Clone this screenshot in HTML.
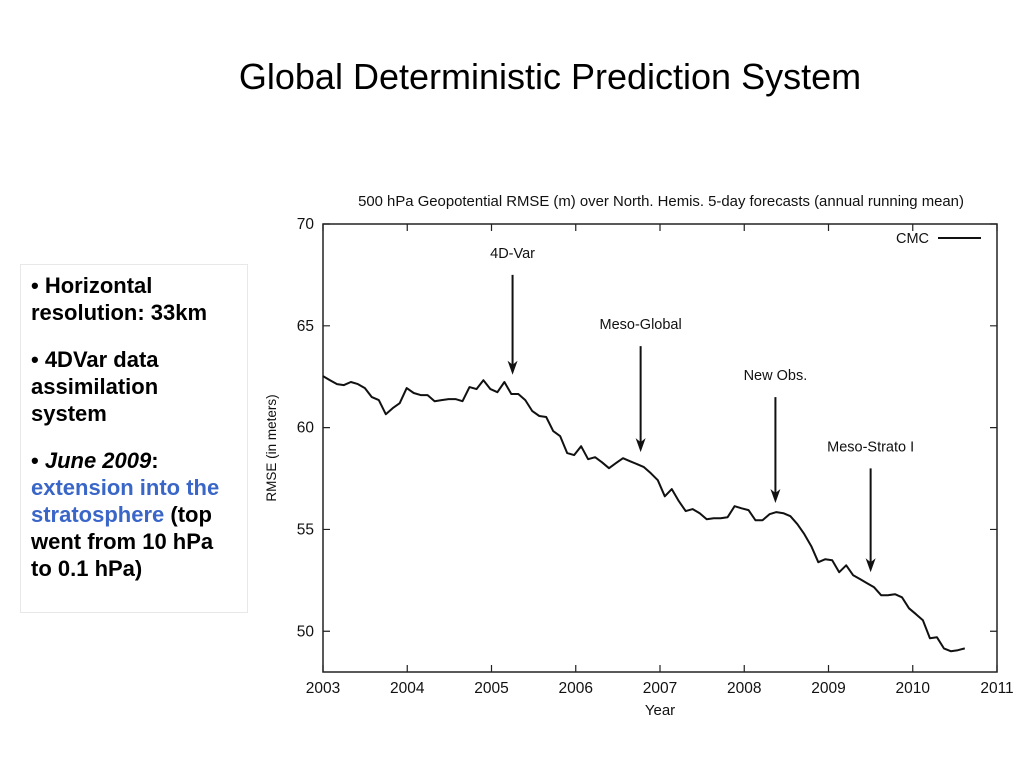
<!DOCTYPE html>
<html><head><meta charset="utf-8"><style>
body{margin:0;width:1024px;height:768px;background:#fff;overflow:hidden;position:relative;font-family:"Liberation Sans",sans-serif}
#title{position:absolute;left:0;width:1100px;top:56px;text-align:center;font-size:36px;color:#000;font-family:"Liberation Sans",sans-serif}
#box{position:absolute;left:20px;top:264px;width:206px;height:333px;border:1px solid #e8e8e8;padding:7px 10px;font-weight:bold;font-size:22px;line-height:27px;color:#000}
#box p{margin:0 0 20px 0}
.blue{color:#3a66c8}
svg{position:absolute;left:0;top:0}
svg text{font-family:"Liberation Sans",sans-serif;fill:#111}
</style></head><body>
<div id="title">Global Deterministic Prediction System</div>
<div id="box">
<p>• Horizontal resolution: 33km</p>
<p>• 4DVar data assimilation system</p>
<p>• <i>June 2009</i>: <span class="blue">extension into the stratosphere</span> (top went from 10 hPa to 0.1 hPa)</p>
</div>
<svg id="chart" width="1024" height="768"></svg>
<script>
const xTicks=[2003,2004,2005,2006,2007,2008,2009,2010,2011];
const yTicks=[50,55,60,65,70];
const startYear=2003;
const monthStep=0.0828;
const cmcValues=[62.53,62.33,62.14,62.09,62.24,62.14,61.94,61.50,61.35,60.66,60.96,61.20,61.94,61.70,61.60,61.60,61.30,61.35,61.40,61.40,61.30,61.99,61.89,62.33,61.89,61.74,62.24,61.65,61.65,61.35,60.81,60.57,60.52,59.83,59.58,58.75,58.65,59.09,58.45,58.55,58.30,58.01,58.26,58.50,58.35,58.21,58.06,57.76,57.42,56.63,56.98,56.39,55.90,56.00,55.80,55.50,55.55,55.55,55.60,56.14,56.04,55.95,55.45,55.45,55.75,55.85,55.80,55.65,55.26,54.77,54.18,53.39,53.54,53.49,52.90,53.24,52.75,52.56,52.36,52.16,51.77,51.77,51.82,51.67,51.13,50.84,50.54,49.66,49.71,49.16,49.02,49.07,49.16];
const eventLabels=["4D-Var","Meso-Global","New Obs.","Meso-Strato I"];
const eventYears=[2005.25,2006.77,2008.37,2009.5];
const eventTops=[67.5,64.0,61.5,58.0];
const eventBottoms=[62.6,58.8,56.3,52.9];

const L=323,R=997,T=224,B=672,Y0=48,Y1=70;
const sx=v=>L+(v-2003)/8*(R-L);
const sy=v=>B-(v-Y0)/(Y1-Y0)*(B-T);
const svg=document.getElementById('chart');
const NS='http://www.w3.org/2000/svg';
function mk(tag,at,parent){const e=document.createElementNS(NS,tag);for(const k in at)e.setAttribute(k,at[k]);(parent||svg).appendChild(e);return e;}

let e=mk('text',{x:661,y:206,'font-size':14.9,'text-anchor':'middle'});


e.textContent='500 hPa Geopotential RMSE (m) over North. Hemis. 5-day forecasts (annual running mean)';

e=mk('rect',{x:L,y:T,width:R-L,height:B-T,fill:'none',stroke:'#222','stroke-width':1.5});



xTicks.forEach(t=>{
 const x=sx(t);
 let l=mk('path',{d:`M${x},${B}v-7M${x},${T}v7`,stroke:'#222','stroke-width':1.2});
 
 
 let tx=mk('text',{x:x,y:B+21,'font-size':15.5,'text-anchor':'middle'});
 
 
 tx.textContent=t;
});
yTicks.forEach(t=>{
 const y=sy(t);
 let l=mk('path',{d:`M${L},${y}h7M${R},${y}h-7`,stroke:'#222','stroke-width':1.2});
 
 
 let tx=mk('text',{x:L-9,y:y+5,'font-size':15.5,'text-anchor':'end'});
 
 
 tx.textContent=t;
});
e=mk('text',{x:660,y:715,'font-size':15,'text-anchor':'middle'});


e.textContent='Year';
e=mk('text',{x:0,y:0,'font-size':13.5,'text-anchor':'middle',transform:`translate(276,448) rotate(-90)`});


e.textContent='RMSE (in meters)';

const pts=cmcValues.map((v,i)=>`${sx(startYear+i*monthStep).toFixed(1)},${sy(v).toFixed(1)}`).join(' ');
e=mk('polyline',{points:pts,fill:'none',stroke:'#111','stroke-width':2,'stroke-linejoin':'round'});



e=mk('text',{x:929,y:243,'font-size':14.5,'text-anchor':'end'});


e.textContent='CMC';
e=mk('line',{x1:938,x2:981,y1:238,y2:238,stroke:'#111','stroke-width':2});



eventLabels.forEach((lab,i)=>{
 const x=sx(eventYears[i]),y1=sy(eventTops[i]),y2=sy(eventBottoms[i]);
 let t=mk('text',{x:x,y:y1-17,'font-size':14.5,'text-anchor':'middle'});
 
 
 t.textContent=lab;
 let l=mk('line',{x1:x,x2:x,y1:y1,y2:y2-10,stroke:'#111','stroke-width':2});
 
 
 let h=mk('path',{d:`M${x-5},${y2-14}L${x},${y2}L${x+5},${y2-14}L${x},${y2-10}Z`,fill:'#111'});
 
 
});
</script>
</body></html>
